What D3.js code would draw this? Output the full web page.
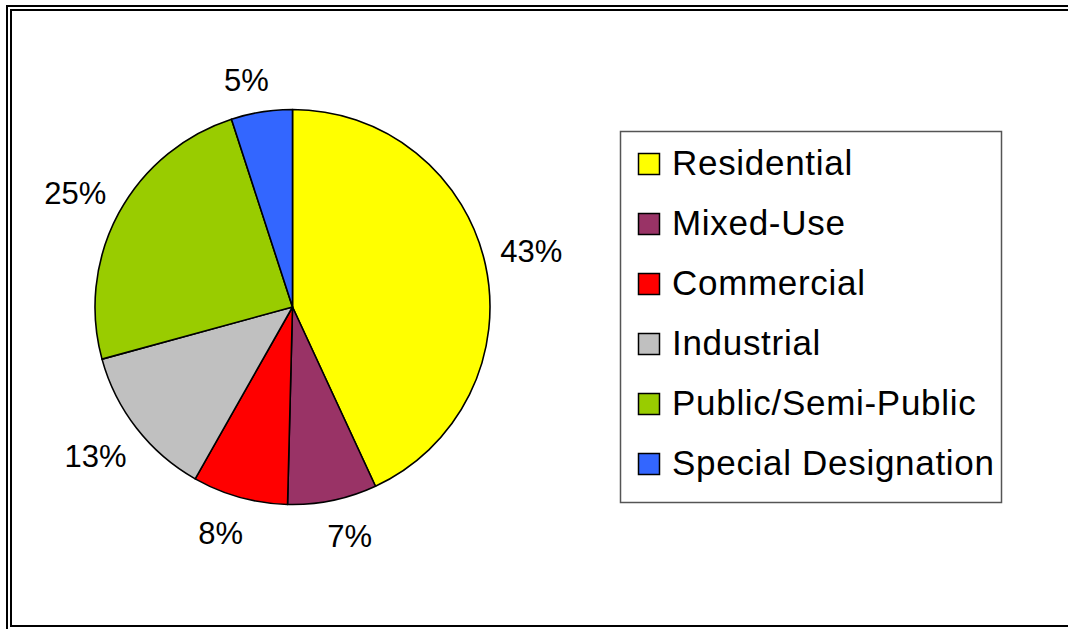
<!DOCTYPE html>
<html>
<head>
<meta charset="utf-8">
<script src="https://cdn.jsdelivr.net/npm/d3@7"></script>
<style>
  html, body { margin: 0; padding: 0; background: #fff; }
  svg { display: block; font-family: "Liberation Sans", Arial, sans-serif; }
</style>
</head>
<body>
<svg id="chart" width="1068" height="629"></svg>
<script>
// ---- data ----
const categories = ["Residential", "Mixed-Use", "Commercial", "Industrial", "Public/Semi-Public", "Special Designation"];
const values = [43.1, 7.3, 7.8, 12.55, 24.25, 5.0];
const percentLabels = ["43%", "7%", "8%", "13%", "25%", "5%"];
const colors = ["#FFFF00", "#993366", "#FF0000", "#C0C0C0", "#99CC00", "#3366FF"];

const svg = d3.select("#chart");
const W = 1068, H = 629;

// ---- double border (frame) ----
svg.append("path").attr("d", `M7,${H} V6 H${W}`)
  .attr("fill", "none").attr("stroke", "#000").attr("stroke-width", 2);
svg.append("path").attr("d", `M${W},10 H11 V626 H${W}`)
  .attr("fill", "none").attr("stroke", "#000").attr("stroke-width", 2);

// ---- pie ----
const cx = 292.5, cy = 307, r = 197.5;
const data = categories.map((c, i) => ({ name: c, value: values[i], label: percentLabels[i], color: colors[i] }));
const pie = d3.pie().sort(null).value(d => d.value);
const arcs = pie(data);
const arc = d3.arc().innerRadius(0).outerRadius(r);

const g = svg.append("g").attr("transform", `translate(${cx},${cy})`);
g.selectAll("path.slice").data(arcs).join("path")
  .attr("class", "slice")
  .attr("d", arc)
  .attr("fill", d => d.data.color)
  .attr("stroke", "#000")
  .attr("stroke-width", 1.6)
  .attr("stroke-linejoin", "round");

// ---- percentage labels (outside end) ----
const labelSize = 31;
const R0 = r + 15.5;
const halfH = 19;
const soft = v => Math.sign(v) * Math.pow(Math.abs(v), 0.3);
g.selectAll("text.pct").data(arcs).join("text")
  .attr("class", "pct")
  .attr("font-size", labelSize)
  .attr("text-anchor", "middle")
  .attr("fill", "#000")
  .text(d => d.data.label)
  .each(function(d) {
    const w = this.getComputedTextLength();
    const a = (d.startAngle + d.endAngle) / 2;
    const ux = Math.sin(a), uy = -Math.cos(a);
    const x = R0 * ux + soft(ux) * w / 2;
    const y = R0 * uy + soft(uy) * halfH;
    d3.select(this).attr("x", x).attr("y", y + 13);
  });

// ---- legend ----
const lx = 620.5, ly = 131.5, lw = 381, lh = 371;
const legend = svg.append("g");
legend.append("rect")
  .attr("x", lx).attr("y", ly).attr("width", lw).attr("height", lh)
  .attr("fill", "#fff").attr("stroke", "#555").attr("stroke-width", 1.5);

const rowY = d3.scalePoint().domain(categories).range([175, 475]);
const items = legend.selectAll("g.item").data(data).join("g").attr("class", "item");
items.append("rect")
  .attr("x", 638.5).attr("y", d => rowY(d.name) - 21.5)
  .attr("width", 21).attr("height", 21)
  .attr("fill", d => d.color).attr("stroke", "#000").attr("stroke-width", 1.5);
items.append("text")
  .attr("x", 672).attr("y", d => rowY(d.name))
  .attr("font-size", 35).attr("letter-spacing", 0.7).attr("fill", "#000")
  .text(d => d.name);
</script>
</body>
</html>
